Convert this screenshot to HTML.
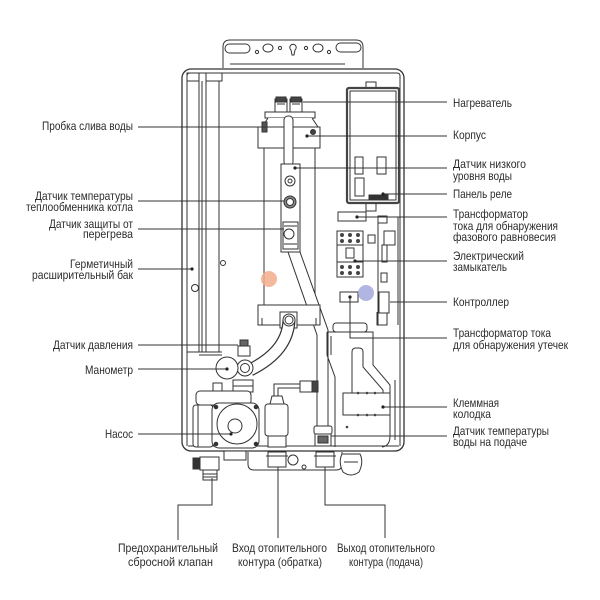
<!DOCTYPE html>
<html><head><meta charset="utf-8"><style>
html,body{margin:0;padding:0;background:#fff;}
svg{display:block;}
text{font-family:"Liberation Sans Narrow","Liberation Sans",sans-serif;font-size:12px;fill:#2b2b2b;}
</style></head><body>
<svg width="600" height="600" viewBox="0 0 600 600" xmlns="http://www.w3.org/2000/svg">
<rect width="600" height="600" fill="#fff"/>
<g fill="none" stroke="#333" stroke-width="1">
 <!-- mounting bracket -->
 <path d="M223,68 V47 Q223,40 230,40 H356 Q363,40 363,47 V68" fill="#fff"/>
 <rect x="225" y="44" width="25" height="9" rx="4.5"/>
 <rect x="336" y="43" width="25" height="9" rx="4.5"/>
 <circle cx="257" cy="52" r="1.6"/>
 <ellipse cx="268" cy="48" rx="5" ry="4"/>
 <circle cx="280" cy="48" r="1.6"/>
 <path d="M291,50 A3.2,3.2 0 1 1 295,50 L294,55 H292 Z"/>
 <circle cx="306" cy="48" r="1.6"/>
 <ellipse cx="318" cy="48" rx="5" ry="4"/>
 <circle cx="329" cy="52" r="1.6"/>
 <path d="M230,64 H345"/>
 <!-- body -->
 <rect x="182" y="69" width="222" height="382" rx="9" fill="#fff" stroke-width="1.3"/>
 <path d="M187,446 V76 Q187,73 190,73 H397 Q400,73 400,76 V446"/>
 <path d="M188,446 H399"/>
 <rect x="187" y="73" width="12" height="8"/>
 <path d="M206,73 V81 H222 V73"/>
 <!-- expansion tank -->
 <path d="M199,81 V352 M202,81 V352 M206,81 V352 M219,81 V352 M187,352 H222 M199,355 H222"/>
 <circle cx="195" cy="288" r="3.5"/>
 <circle cx="223" cy="263" r="2.5"/>
 <!-- heater -->
 <path d="M264,148 V305 M315,148 V305"/>
 <rect x="275" y="99" width="12" height="13" fill="#fff"/>
 <rect x="290" y="99" width="12" height="13" fill="#fff"/>
 <rect x="276" y="97" width="10" height="5" fill="#444"/>
 <rect x="291" y="97" width="10" height="5" fill="#444"/>
 <path d="M277,104 H285 M292,104 H300"/>
 <rect x="265" y="112" width="50" height="6" fill="#fff"/>
 <path d="M268,118 L262,127 H318 L312,118" fill="#fff"/>
 <rect x="258" y="127" width="62" height="21" fill="#fff"/>
 <rect x="262" y="122" width="5" height="10" fill="#555"/>
 <path d="M267,127 H275"/>
 <circle cx="313" cy="132" r="2.5" fill="#444"/>
 <rect x="284" y="116" width="9" height="50" rx="4" fill="#fff"/>
 <!-- sensor plate -->
 <rect x="281" y="164" width="19" height="88" fill="#fff"/>
 <circle cx="290" cy="181" r="5"/>
 <circle cx="290" cy="181" r="2"/>
 <circle cx="290" cy="202" r="6" fill="#888"/>
 <circle cx="290" cy="202" r="3.5" fill="#fff"/>
 <rect x="283" y="222" width="15" height="27"/>
 <circle cx="289" cy="234" r="5"/>
 <path d="M284,226 H297 M284,244 H297"/>
 <!-- diagonal supply pipe -->
 <path d="M288,252 L317,335 V427 H328 V330 L300,252 Z" fill="#fff"/>
 <!-- heater bottom flange -->
 <rect x="258" y="305" width="62" height="20" fill="#fff"/>
 <path d="M262,325 V318 M316,325 V318"/>
 <rect x="280" y="312" width="17" height="16" fill="#fff"/>
 <!-- curved tube -->
 <path d="M289,320 C288,345 270,360 250,370" stroke="#333" stroke-width="13"/>
 <path d="M289,320 C288,345 270,360 250,370" stroke="#fff" stroke-width="10.5"/>
 <circle cx="289" cy="320" r="6" fill="#fff"/>
 <circle cx="289" cy="320" r="4"/>
 <!-- pressure sensor, manometer -->
 <rect x="238" y="346" width="12" height="10" fill="#fff"/>
 <rect x="240" y="340" width="8" height="6" fill="#666"/>
 <circle cx="245" cy="368" r="8" fill="#fff"/>
 <circle cx="245" cy="368" r="4.5"/>
 <circle cx="227" cy="368" r="11" fill="#fff"/>
 <rect x="233" y="380" width="20" height="12" fill="#fff"/>
 <path d="M233,386 H253"/>
 <!-- pump -->
 <rect x="196" y="391" width="55" height="14" rx="4" fill="#fff"/>
 <rect x="213" y="383" width="9" height="8" fill="#fff"/>
 <rect x="193" y="405" width="20" height="42" rx="3" fill="#fff"/>
 <path d="M198,405 V447"/>
 <rect x="212" y="403" width="47" height="45" rx="7" fill="#fff"/>
 <circle cx="237" cy="424" r="20"/>
 <circle cx="235" cy="426" r="7"/>
 <circle cx="216" cy="407" r="1.8" fill="#333"/>
 <circle cx="256" cy="407" r="1.8" fill="#333"/>
 <circle cx="216" cy="444" r="1.8" fill="#333"/>
 <circle cx="256" cy="444" r="1.8" fill="#333"/>
 <!-- air vent -->
 <path d="M274,396 V384 H301 M278,396 V388 H301"/>
 <rect x="300" y="381" width="18" height="11" fill="#fff"/>
 <rect x="312" y="381" width="6" height="11" fill="#444"/>
 <path d="M270,404 L272,396 H282 L284,404" fill="#fff"/>
 <rect x="265" y="404" width="23" height="32" rx="3" fill="#fff"/>
 <rect x="268" y="436" width="18" height="11" fill="#fff"/>
 <!-- supply pipe fitting -->
 <rect x="314" y="426" width="18" height="8" rx="2" fill="#fff"/>
 <rect x="315" y="434" width="16" height="12" fill="#fff"/>
 <rect x="318" y="436" width="10" height="7" fill="#666"/>
 <!-- right control enclosure -->
 <rect x="366" y="82" width="10" height="7" fill="#fff"/>
 <rect x="366" y="203" width="10" height="8" fill="#fff"/>
 <rect x="347" y="88" width="52" height="115" rx="2" fill="#fff" stroke="#444" stroke-width="2.2"/>
 <rect x="350" y="91" width="46" height="109"/>
 <rect x="355" y="157" width="8" height="17"/>
 <rect x="377" y="157" width="9" height="17"/>
 <rect x="355" y="178" width="9" height="18"/>
 <rect x="369" y="195" width="19" height="4" fill="#333"/>
 <!-- phase transformer -->
 <rect x="338" y="212" width="28" height="9" fill="#fff"/>
 <!-- contactor -->
 <rect x="337" y="231" width="26" height="46" fill="#fff"/>
 <path d="M337,245 H363 M337,262 H363"/>
 <g fill="#444" stroke="none">
  <circle cx="342" cy="235" r="2"/><circle cx="350" cy="235" r="2"/><circle cx="358" cy="235" r="2"/>
  <circle cx="342" cy="241" r="2"/><circle cx="350" cy="241" r="2"/><circle cx="358" cy="241" r="2"/>
  <circle cx="342" cy="267" r="2"/><circle cx="350" cy="267" r="2"/><circle cx="358" cy="267" r="2"/>
  <circle cx="342" cy="273" r="2"/><circle cx="350" cy="273" r="2"/><circle cx="358" cy="273" r="2"/>
 </g>
 <rect x="346" y="248" width="8" height="10"/>
 <rect x="368" y="235" width="7" height="8"/>
 <!-- controller strip -->
 <path d="M378,217 V325 M398,217 V325"/>
 <rect x="378" y="216" width="9" height="7"/>
 <rect x="384" y="231" width="11" height="14"/>
 <rect x="382" y="245" width="5" height="17"/>
 <rect x="381" y="273" width="6" height="9"/>
 <rect x="379" y="292" width="10" height="21"/>
 <path d="M377,312 V325 H387 V313"/>
 <!-- leakage transformer -->
 <rect x="340" y="292" width="18" height="10" fill="#fff"/>
 <!-- terminal enclosure -->
 <rect x="333" y="323" width="34" height="9" rx="3"/>
 <path d="M327,332 H373 V365 L390,385 V436 Q390,446 382,447 M327,332 V355 L335,377 V447"/>
 <path d="M331,336 V355"/>
 <path d="M352,393 V352 Q352,348 356,348 H359 Q363,348 363,352 V367 L383,390 V393"/>
 <rect x="343" y="393" width="47" height="22" fill="#fff"/>
 <g fill="#444" stroke="none">
  <circle cx="358" cy="393" r="1.3"/><circle cx="367" cy="393" r="1.3"/><circle cx="375" cy="393" r="1.3"/>
  <circle cx="358" cy="415" r="1.3"/><circle cx="367" cy="415" r="1.3"/><circle cx="375" cy="415" r="1.3"/>
  <circle cx="347" cy="427" r="1.3"/>
 </g>
 <path d="M395,380 V440"/>
 <!-- bottom chassis & fittings -->
 <path d="M248,452 V464 Q248,470 254,470 H336 Q342,470 342,464 V452"/>
 <rect x="224" y="451" width="22" height="9" fill="#fff"/>
 <rect x="200" y="457" width="19" height="13" fill="#fff"/>
 <rect x="193" y="458" width="6" height="11" fill="#333"/>
 <rect x="203" y="470" width="14" height="10" fill="#fff"/>
 <path d="M203,474 H217 M203,477 H217"/>
 <rect x="268" y="452" width="18" height="15" fill="#fff"/>
 <path d="M266,456 H288"/>
 <circle cx="293" cy="460" r="5"/>
 <circle cx="304" cy="467" r="2"/>
 <rect x="316" y="452" width="18" height="15" fill="#fff"/>
 <path d="M314,456 H336"/>
 <path d="M342,454 Q338,462 343,472 Q351,478 359,472 Q364,462 360,454 Z" fill="#fff"/>
 <path d="M344,462 H358"/>
</g>
<!-- colour dots -->
<circle cx="269" cy="279" r="8" fill="#f2ad8c" opacity="0.85"/>
<circle cx="366" cy="293" r="8" fill="#a8addf" opacity="0.9"/>
<!-- leader lines -->
<g fill="none" stroke="#333" stroke-width="1">
 <path d="M138,127 H268"/>
 <path d="M138,201 H284"/>
 <path d="M138,229 H284"/>
 <path d="M138,269 H192"/>
 <path d="M138,345 H238"/>
 <path d="M138,369 H227"/>
 <path d="M138,434 H231"/>
 <path d="M303,102 H447"/>
 <path d="M307,136 H447"/>
 <path d="M295,168 H447"/>
 <path d="M383,194 H447"/>
 <path d="M357,217 H447"/>
 <path d="M355,261 H447"/>
 <path d="M390,302 H447"/>
 <path d="M350,297 V338 H447"/>
 <path d="M383,407 H447"/>
 <path d="M331,436 H447"/>
 <path d="M212,478 V505 H178 V540"/>
 <path d="M278,467 V538"/>
 <path d="M325,467 V505 H385 V538"/>
</g>
<g fill="#222">
 <circle cx="192" cy="269" r="1.6"/>
 <circle cx="227" cy="369" r="1.6"/>
 <circle cx="231" cy="434" r="1.6"/>
 <circle cx="307" cy="136" r="1.6"/>
 <circle cx="295" cy="168" r="1.6"/>
 <circle cx="383" cy="194" r="1.6"/>
 <circle cx="357" cy="217" r="1.6"/>
 <circle cx="355" cy="261" r="1.6"/>
 <circle cx="350" cy="297" r="1.6"/>
 <circle cx="383" cy="407" r="1.6"/>
</g>
<!-- labels left -->
<text x="42" y="130" textLength="91" lengthAdjust="spacingAndGlyphs">Пробка слива воды</text>
<text x="35" y="200" textLength="98" lengthAdjust="spacingAndGlyphs">Датчик температуры</text>
<text x="26" y="211" textLength="107" lengthAdjust="spacingAndGlyphs">теплообменника котла</text>
<text x="49" y="228" textLength="84" lengthAdjust="spacingAndGlyphs">Датчик защиты от</text>
<text x="83" y="238" textLength="50" lengthAdjust="spacingAndGlyphs">перегрева</text>
<text x="70" y="268" textLength="63" lengthAdjust="spacingAndGlyphs">Герметичный</text>
<text x="32" y="279" textLength="101" lengthAdjust="spacingAndGlyphs">расширительный бак</text>
<text x="53" y="349" textLength="80" lengthAdjust="spacingAndGlyphs">Датчик давления</text>
<text x="85" y="374" textLength="48" lengthAdjust="spacingAndGlyphs">Манометр</text>
<text x="105" y="438" textLength="28" lengthAdjust="spacingAndGlyphs">Насос</text>
<!-- labels right -->
<text x="453" y="107" textLength="59" lengthAdjust="spacingAndGlyphs">Нагреватель</text>
<text x="453" y="139" textLength="33" lengthAdjust="spacingAndGlyphs">Корпус</text>
<text x="453" y="168" textLength="73" lengthAdjust="spacingAndGlyphs">Датчик низкого</text>
<text x="453" y="180" textLength="59" lengthAdjust="spacingAndGlyphs">уровня воды</text>
<text x="453" y="198" textLength="59" lengthAdjust="spacingAndGlyphs">Панель реле</text>
<text x="453" y="218" textLength="75" lengthAdjust="spacingAndGlyphs">Трансформатор</text>
<text x="453" y="230" textLength="105" lengthAdjust="spacingAndGlyphs">тока для обнаружения</text>
<text x="453" y="241" textLength="103" lengthAdjust="spacingAndGlyphs">фазового равновесия</text>
<text x="453" y="260" textLength="71" lengthAdjust="spacingAndGlyphs">Электрический</text>
<text x="453" y="271" textLength="54" lengthAdjust="spacingAndGlyphs">замыкатель</text>
<text x="453" y="306" textLength="56" lengthAdjust="spacingAndGlyphs">Контроллер</text>
<text x="453" y="337" textLength="98" lengthAdjust="spacingAndGlyphs">Трансформатор тока</text>
<text x="453" y="349" textLength="115" lengthAdjust="spacingAndGlyphs">для обнаружения утечек</text>
<text x="453" y="407" textLength="46" lengthAdjust="spacingAndGlyphs">Клеммная</text>
<text x="453" y="418" textLength="38" lengthAdjust="spacingAndGlyphs">колодка</text>
<text x="453" y="435" textLength="96" lengthAdjust="spacingAndGlyphs">Датчик температуры</text>
<text x="453" y="446" textLength="74" lengthAdjust="spacingAndGlyphs">воды на подаче</text>
<!-- labels bottom -->
<text x="118" y="552" textLength="100" lengthAdjust="spacingAndGlyphs">Предохранительный</text>
<text x="128" y="566" textLength="85" lengthAdjust="spacingAndGlyphs">сбросной клапан</text>
<text x="232" y="552" textLength="95" lengthAdjust="spacingAndGlyphs">Вход отопительного</text>
<text x="238" y="566" textLength="84" lengthAdjust="spacingAndGlyphs">контура (обратка)</text>
<text x="337" y="552" textLength="98" lengthAdjust="spacingAndGlyphs">Выход отопительного</text>
<text x="349" y="566" textLength="74" lengthAdjust="spacingAndGlyphs">контура (подача)</text>
</svg>
</body></html>
